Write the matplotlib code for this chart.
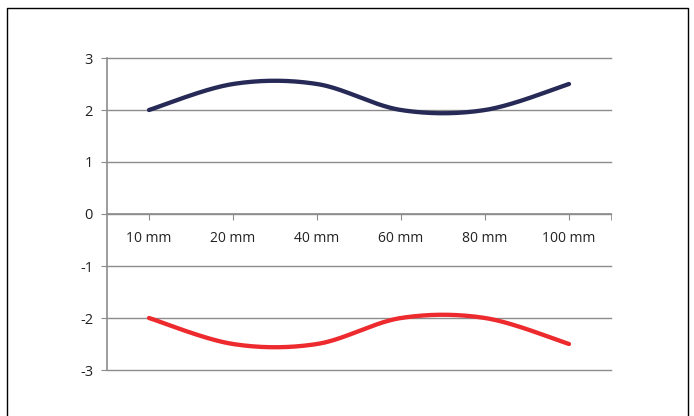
import matplotlib.pyplot as plt
from matplotlib.lines import Line2D
import numpy as np

categories = ['10 mm', '20 mm', '40 mm', '60 mm', '80 mm', '100 mm']
upper = [2, 2.5, 2.5, 2, 2, 2.5]
lower = [-2, -2.5, -2.5, -2, -2, -2.5]


def smooth(xs, ys, n=40):
    # excel-like smoothed line: bezier segments with catmull-rom control points
    p = np.column_stack([xs, ys]).astype(float)
    pts = np.vstack([p[0], p, p[-1]])
    t = np.linspace(0, 1, n)[:, None]
    out = []
    for i in range(1, len(pts) - 2):
        p0, p1, p2, p3 = pts[i - 1], pts[i], pts[i + 1], pts[i + 2]
        c1 = p1 + (p2 - p0) / 6.0
        c2 = p2 - (p3 - p1) / 6.0
        seg = ((1 - t) ** 3) * p1 + 3 * ((1 - t) ** 2) * t * c1 + 3 * (1 - t) * t ** 2 * c2 + t ** 3 * p2
        out.append(seg if i == 1 else seg[1:])
    out = np.vstack(out)
    return out[:, 0], out[:, 1]


plt.rcParams['font.family'] = ['Open Sans', 'DejaVu Sans']
plt.rcParams['axes.unicode_minus'] = False
fig = plt.figure(figsize=(6.94, 4.16), dpi=100, facecolor='white')
ax = fig.add_axes([107 / 694, 1 - 370 / 416, 504 / 694, 312 / 416])

x = np.arange(len(categories))
gray = '#8c8c8c'

ax.set_ylim(-3, 3)
ax.set_xlim(-0.5, len(categories) - 0.5)
ax.set_yticks([-3, -2, -1, 0, 1, 2, 3])
ax.grid(axis='y', color=gray, lw=1)
ax.set_axisbelow(True)
for gl in ax.get_ygridlines():
    gl.set_clip_on(False)

sx, sy = smooth(x, upper)
ax.plot(sx, sy, color='#272a57', lw=3.1, solid_capstyle='round', zorder=3)
sx, sy = smooth(x, lower)
ax.plot(sx, sy, color='#ed2a2d', lw=3.1, solid_capstyle='round', zorder=3)

for s in ['top', 'right']:
    ax.spines[s].set_visible(False)
ax.spines['bottom'].set_position(('data', 0))
ax.spines['bottom'].set_color(gray)
ax.spines['left'].set_color(gray)
ax.spines['bottom'].set_linewidth(1.2)
ax.spines['left'].set_linewidth(1.2)

ax.set_xticks(x)
ax.set_xticklabels(categories)
ax.set_xticks([len(categories) - 0.5], minor=True)
ax.tick_params(axis='x', which='both', direction='out', length=4, color=gray, pad=8, labelsize=10, labelcolor='#222222')
ax.tick_params(axis='y', direction='out', length=4, color=gray, pad=6, labelsize=10.5, labelcolor='#222222')

# outer chart border (open at bottom, runs past the image edge)
fig.add_artist(Line2D([6.5 / 694, 6.5 / 694, 687.5 / 694, 687.5 / 694],
                      [-0.05, 1 - 7.5 / 416, 1 - 7.5 / 416, -0.05],
                      color='black', lw=1, transform=fig.transFigure))

plt.savefig('out.png', dpi=100)
